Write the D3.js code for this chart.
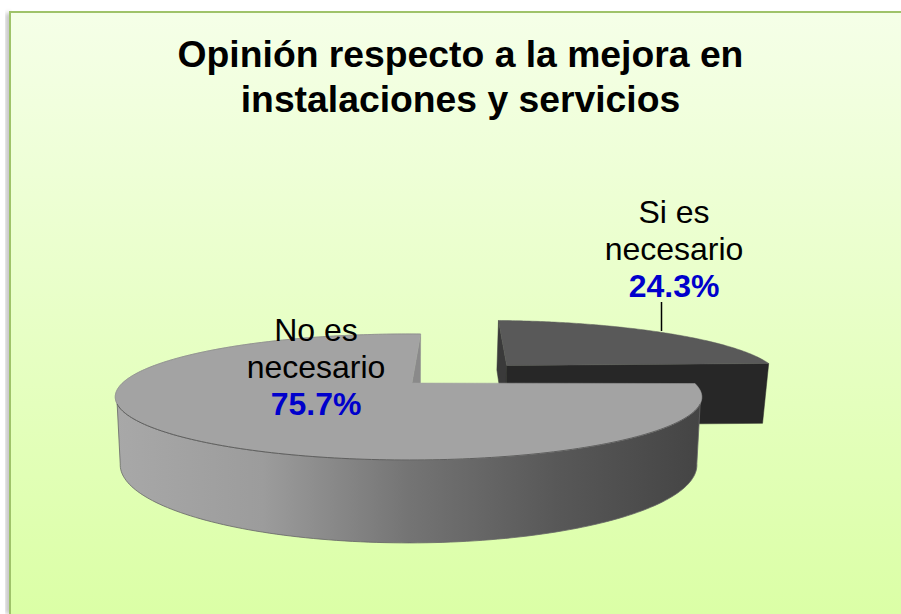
<!DOCTYPE html>
<html>
<head>
<meta charset="utf-8">
<script src="https://cdn.jsdelivr.net/npm/d3@7"></script>
<style>
  html, body { margin: 0; padding: 0; background: #fff; }
  svg { display: block; }
  text { font-family: "Liberation Sans", Arial, sans-serif; }
</style>
</head>
<body>
<div id="chart"></div>
<script>
  "use strict";

  /* <!-- Data --> */
  const titleLines = ["Opinión respecto a la mejora en", "instalaciones y servicios"];
  const categories = ["Si es necesario", "No es necesario"];
  const percents = [24.3, 75.7];
  const labelLines = [["Si es", "necesario"], ["No es", "necesario"]];

  /* <!-- Page --> */
  const width = 901, height = 614;
  const svg = d3.select("#chart").append("svg").attr("width", width).attr("height", height);
  const defs = svg.append("defs");

  const bg = defs.append("linearGradient").attr("id", "bg").attr("x1", 0).attr("y1", 0).attr("x2", 0).attr("y2", 1);
  bg.append("stop").attr("offset", 0).attr("stop-color", "#f5ffe8");
  bg.append("stop").attr("offset", 1).attr("stop-color", "#dbffa6");

  const wall = defs.append("linearGradient").attr("id", "wall")
    .attr("gradientUnits", "userSpaceOnUse").attr("x1", 116).attr("y1", 0).attr("x2", 702).attr("y2", 0);
  [[0, "#a8a8a8"], [0.25, "#9c9c9c"], [0.5, "#747474"], [0.75, "#585858"], [1, "#444444"]]
    .forEach(d => wall.append("stop").attr("offset", d[0]).attr("stop-color", d[1]));

  const blur = defs.append("filter").attr("id", "soft").attr("x", "-5%").attr("width", "110%");
  blur.append("feGaussianBlur").attr("stdDeviation", 2);

  svg.append("rect").attr("x", 6).attr("y", 13).attr("width", 5).attr("height", height - 13)
    .attr("fill", "#bbb").attr("filter", "url(#soft)");
  svg.append("rect").attr("x", 9).attr("y", 11).attr("width", width - 9).attr("height", height - 11)
    .attr("fill", "url(#bg)");
  svg.append("path").attr("d", `M10,${height}V12H${width}`)
    .attr("fill", "none").attr("stroke", "#9fc36a").attr("stroke-width", 2);

  /* <!-- Title --> */
  svg.append("g").selectAll("text").data(titleLines).enter().append("text")
    .attr("x", 460.5).attr("y", (d, i) => 67 + i * 45)
    .attr("text-anchor", "middle")
    .style("font-size", "37.3px").style("font-weight", "bold")
    .text(d => d);

  /* <!-- Perspective projection of the pie disc: u right, v toward viewer, z down --> */
  const radius = 286, depth = 64.5, discX = 408.5, apexY = 383, vanishX = 407, persp = -0.222, squash = 59.9;
  const project = (u, v, z) => {
    const s = 1 / (1 + persp * v);
    return [
      vanishX + (discX + radius * u - vanishX) * s * (1 - 0.017 * z),
      apexY + squash * v * s + depth * z * s
    ];
  };

  /* <!-- Slices: clockwise from just past 12 o'clock --> */
  const pieAngles = d3.pie().sort(null).startAngle(0.053).endAngle(0.053 + 2 * Math.PI)(percents);
  const line = d3.line();
  const explode = [[0.358, -0.36], [0, 0]];
  const apexNudge = [[3.5, 2.5], [3.5, 0]];
  const rim = (a, off, z) => project(off[0] + Math.sin(a), off[1] - Math.cos(a), z);
  const arcPts = (a0, a1, off, z) => d3.range(0, 121).map(i => rim(a0 + (a1 - a0) * i / 120, off, z));
  const centre = (i, z) => {
    const p = project(explode[i][0], explode[i][1], z);
    return [p[0] + apexNudge[i][0], p[1] + apexNudge[i][1]];
  };

  const pieG = svg.append("g");
  const face = (pts, fill, stroke) => pieG.append("path")
    .attr("d", line(pts) + "Z").attr("fill", fill)
    .attr("stroke", stroke || fill).attr("stroke-width", stroke ? 0.8 : 0.5);

  const small = pieAngles[0], big = pieAngles[1];

  /* <!-- Small slice --> */
  const sOff = explode[0];
  face([centre(0, 0), rim(small.startAngle, sOff, 0), rim(small.startAngle, sOff, 1), centre(0, 1)], "#3a3a3a");
  face([centre(0, 0), rim(small.endAngle, sOff, 0), rim(small.endAngle, sOff, 1), centre(0, 1)], "#272727");
  face([centre(0, 0)].concat(arcPts(small.startAngle, small.endAngle, sOff, 0)), "#595959");

  /* <!-- Leader line --> */
  svg.append("line").attr("x1", 661.5).attr("x2", 661.5).attr("y1", 302).attr("y2", 331)
    .attr("stroke", "#000").attr("stroke-width", 1.5);

  /* <!-- Big slice: bottom rim wraps a little past the top one so the lower corners come out round --> */
  const bOff = explode[1];
  face([centre(1, 0), rim(big.endAngle, bOff, 0), rim(big.endAngle, bOff, 1), centre(1, 1)], "#8a8a8a");
  const wallStart = 1.9, wallEnd = 4.38;
  face(arcPts(wallStart, wallEnd, bOff, 0).concat(arcPts(1.78, 4.5, bOff, 1).reverse()), "url(#wall)", "#666");
  face([centre(1, 0)].concat(arcPts(big.startAngle, big.endAngle, bOff, 0)), "#a3a3a3");
  pieG.append("path").attr("d", line(arcPts(wallStart, wallEnd, bOff, 0)))
    .attr("fill", "none").attr("stroke", "#5f5f5f").attr("stroke-width", 1);
  pieG.append("path").attr("d", line(arcPts(wallEnd, big.endAngle, bOff, 0)))
    .attr("fill", "none").attr("stroke", "#8c8c8c").attr("stroke-width", 0.8);

  /* <!-- Labels --> */
  const labelPos = [[674, 223], [316, 341]];
  const labels = svg.append("g").selectAll("g").data(categories).enter().append("g")
    .attr("transform", (d, i) => `translate(${labelPos[i][0]},${labelPos[i][1]})`)
    .attr("text-anchor", "middle");
  labels.each(function(d, i) {
    const g = d3.select(this);
    labelLines[i].forEach((t, j) => g.append("text").attr("y", j * 37).style("font-size", "32px").attr("fill", "#000").text(t));
    g.append("text").attr("y", 2 * 37).style("font-size", "32px").style("font-weight", "bold")
      .attr("fill", "#0000cc").text(percents[i].toFixed(1) + "%");
  });
</script>
</body>
</html>
